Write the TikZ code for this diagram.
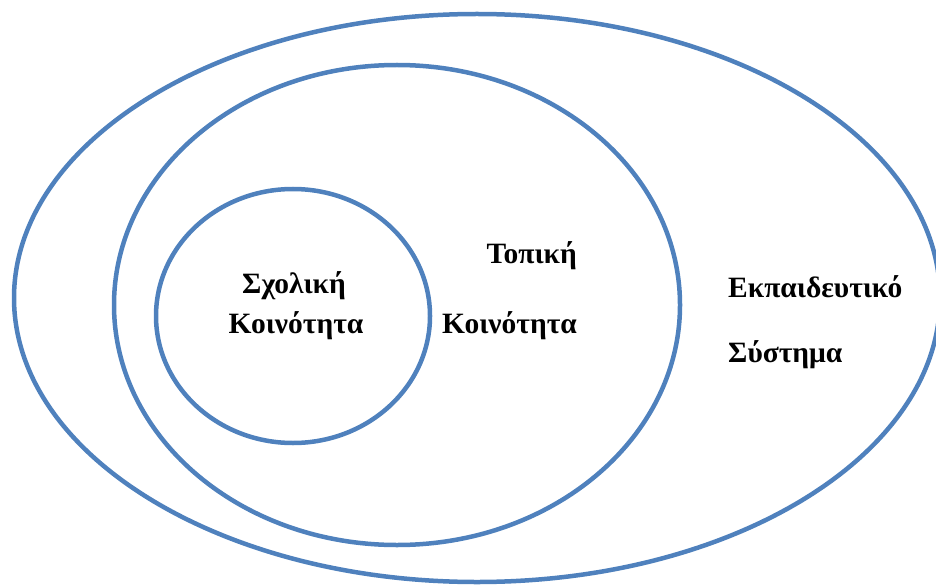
\documentclass[tikz,border=0pt]{standalone}
\usepackage{fontspec}
\setmainfont{Liberation Serif}
\definecolor{ringblue}{RGB}{79,129,189}
\begin{document}
\begin{tikzpicture}[x=1pt,y=-1pt,
  ring/.style={draw=ringblue,line width=4.5pt},
  lbl/.style={inner sep=0pt,font=\fontsize{29.5}{34}\selectfont\bfseries}]
\useasboundingbox (0,0) rectangle (936,588);
\draw[ring] (477,298) ellipse [x radius=463, y radius=284];
\draw[ring] (397,305) ellipse [x radius=283, y radius=240];
\draw[ring] (293,316) ellipse [x radius=137, y radius=127];
\node[lbl,anchor=base] (s1) at (294,293) {Σχολική};
\node[lbl,anchor=base] (s2) at (296,333) {Κοινότητα};
\node[lbl,anchor=base east] (t1) at (577,263) {Τοπική};
\node[lbl,anchor=base east] (t2) at (577,333) {Κοινότητα};
\node[lbl,anchor=base west] (e1) at (728,297) {Εκπαιδευτικό};
\node[lbl,anchor=base west] (e2) at (728,362) {Σύστημα};
\end{tikzpicture}
\end{document}
